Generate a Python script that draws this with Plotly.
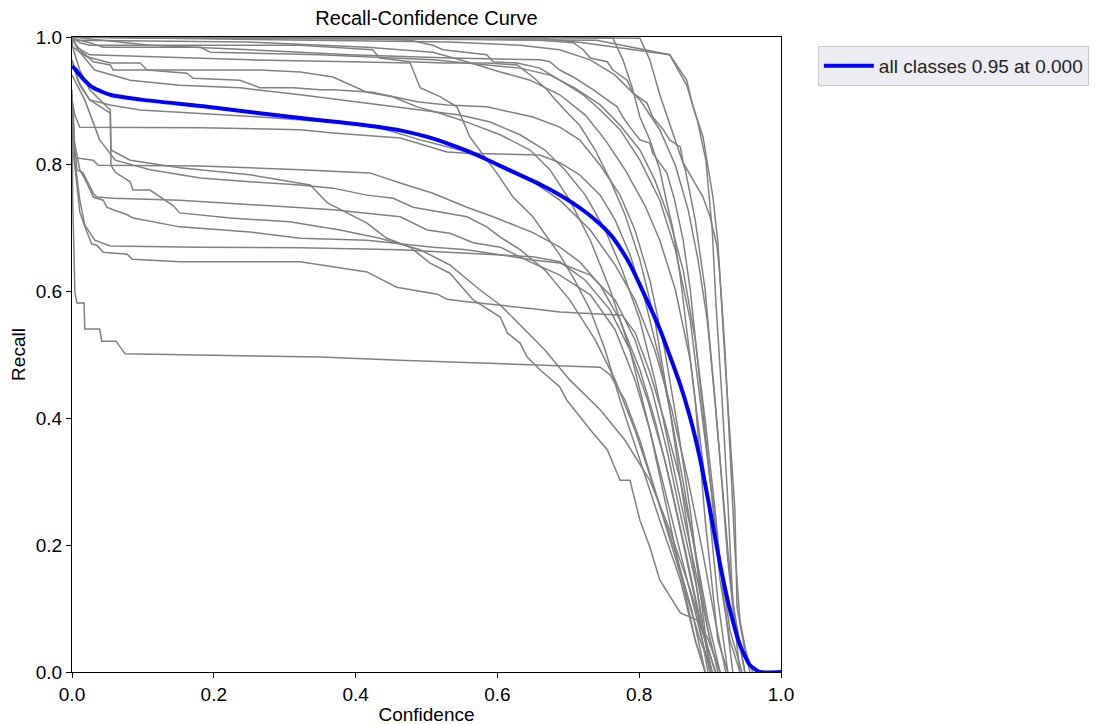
import plotly.graph_objects as go

# ---- Data (confidence, recall) per class curve ----
c01_x = [0, 0.74, 0.843, 0.867, 0.876, 0.890, 0.904, 0.911, 0.921, 0.931, 0.935, 0.938, 0.948, 0.960]
c01_y = [1.0, 0.995, 0.972, 0.932, 0.890, 0.843, 0.748, 0.676, 0.491, 0.334, 0.255, 0.102, 0.040, 0.0]

c02_x = [0, 0.40, 0.66, 0.721, 0.843, 0.867, 0.882, 0.894, 0.903, 0.908, 0.917, 0.925, 0.932, 0.949]
c02_y = [1.0, 1.0, 0.998, 0.991, 0.972, 0.924, 0.869, 0.806, 0.696, 0.586, 0.427, 0.269, 0.110, 0.0]

c03_x = [0, 0.55, 0.763, 0.777, 0.790, 0.801, 0.815, 0.829, 0.839, 0.848, 0.858, 0.879, 0.893, 0.911, 0.925]
c03_y = [1.0, 1.0, 0.998, 0.964, 0.921, 0.874, 0.838, 0.791, 0.739, 0.696, 0.622, 0.428, 0.24, 0.05, 0.0]

c04_x = [0, 0.60, 0.801, 0.815, 0.829, 0.846, 0.865, 0.879, 0.893, 0.903, 0.914, 0.925, 0.942]
c04_y = [1.0, 1.0, 0.998, 0.964, 0.909, 0.854, 0.791, 0.712, 0.602, 0.476, 0.334, 0.176, 0.0]

c05_x = [0, 0.181, 0.420, 0.477, 0.509, 0.523, 0.585, 0.594, 0.628, 0.660, 0.688, 0.721, 0.745, 0.773,
         0.801, 0.829, 0.851, 0.872, 0.886, 0.900, 0.914, 0.928, 0.945]
c05_y = [1.0, 0.998, 0.997, 0.995, 0.987, 0.980, 0.972, 0.961, 0.959, 0.951, 0.932, 0.909, 0.885, 0.854,
         0.806, 0.743, 0.665, 0.554, 0.428, 0.302, 0.176, 0.066, 0.0]

c06_x = [0, 0.110, 0.322, 0.533, 0.660, 0.707, 0.721, 0.731, 0.755, 0.763, 0.783, 0.791, 0.811, 0.819,
         0.834, 0.843, 0.858, 0.862, 0.876, 0.890, 0.900, 0.910, 0.914, 0.921, 0.928, 0.935, 0.942, 0.956]
c06_y = [1.0, 0.998, 0.998, 0.997, 0.995, 0.991, 0.980, 0.967, 0.961, 0.948, 0.932, 0.912, 0.896, 0.874,
         0.854, 0.838, 0.827, 0.802, 0.775, 0.748, 0.717, 0.669, 0.622, 0.507, 0.350, 0.192, 0.082, 0.0]

c07_x = [0, 0.110, 0.247, 0.416, 0.509, 0.557, 0.604, 0.646, 0.688, 0.724, 0.752, 0.780, 0.808, 0.829,
         0.851, 0.872, 0.886, 0.900, 0.911, 0.925]
c07_y = [0.995, 0.994, 0.992, 0.984, 0.976, 0.961, 0.945, 0.932, 0.909, 0.877, 0.838, 0.791, 0.735, 0.680,
         0.602, 0.491, 0.365, 0.239, 0.113, 0.0]

c08_x = [0, 0.025, 0.044, 0.181, 0.195, 0.350, 0.509, 0.580, 0.632, 0.674, 0.709, 0.745, 0.773, 0.801,
         0.822, 0.843, 0.862, 0.879, 0.893, 0.907, 0.918, 0.932]
c08_y = [0.998, 0.991, 0.984, 0.984, 0.976, 0.972, 0.964, 0.956, 0.951, 0.940, 0.920, 0.893, 0.861, 0.822,
         0.775, 0.712, 0.633, 0.523, 0.397, 0.255, 0.129, 0.0]

c09_x = [0, 0.011, 0.025, 0.322, 0.424, 0.434, 0.477, 0.523, 0.585, 0.628, 0.650, 0.670, 0.678, 0.695,
         0.716, 0.738, 0.759, 0.780, 0.801, 0.822, 0.841, 0.858, 0.875, 0.890, 0.907]
c09_y = [1.0, 0.991, 0.987, 0.987, 0.980, 0.967, 0.961, 0.959, 0.959, 0.956, 0.937, 0.917, 0.906, 0.885,
         0.861, 0.822, 0.775, 0.720, 0.649, 0.554, 0.428, 0.302, 0.176, 0.066, 0.0]

c10_x = [0, 0.001, 0.021, 0.054, 0.096, 0.106, 0.162, 0.171, 0.237, 0.265, 0.312, 0.350, 0.368, 0.424,
         0.487, 0.529, 0.585, 0.650, 0.688, 0.716, 0.745, 0.773, 0.794, 0.815, 0.836, 0.855, 0.872, 0.886, 0.900]
c10_y = [1.0, 0.984, 0.969, 0.959, 0.959, 0.948, 0.943, 0.935, 0.932, 0.920, 0.920, 0.917, 0.917, 0.913,
         0.898, 0.893, 0.890, 0.874, 0.858, 0.838, 0.798, 0.751, 0.696, 0.617, 0.507, 0.381, 0.255, 0.129, 0.0]

c11_x = [0, 0.006, 0.016, 0.030, 0.054, 0.058, 0.181, 0.265, 0.322, 0.368, 0.416, 0.452, 0.487, 0.519,
         0.557, 0.604, 0.646, 0.674, 0.702, 0.731, 0.759, 0.787, 0.815, 0.836, 0.858, 0.879, 0.893]
c11_y = [1.0, 0.987, 0.975, 0.961, 0.956, 0.948, 0.948, 0.948, 0.945, 0.937, 0.913, 0.906, 0.890, 0.880,
         0.866, 0.846, 0.822, 0.791, 0.743, 0.680, 0.602, 0.507, 0.381, 0.271, 0.161, 0.050, 0.0]

c12_x = [0, 0.008, 0.025, 0.110, 0.251, 0.392, 0.477, 0.491, 0.519, 0.543, 0.561, 0.575, 0.599, 0.622,
         0.650, 0.670, 0.688, 0.709, 0.731, 0.752, 0.773, 0.801, 0.829, 0.858, 0.879, 0.893]
c12_y = [1.0, 0.983, 0.972, 0.969, 0.964, 0.961, 0.959, 0.920, 0.906, 0.890, 0.843, 0.822, 0.786, 0.748,
         0.717, 0.685, 0.657, 0.617, 0.570, 0.507, 0.428, 0.334, 0.239, 0.145, 0.050, 0.0]

c13_x = [0, 0.004, 0.011, 0.181, 0.322, 0.368, 0.463, 0.529, 0.557, 0.660, 0.688, 0.716, 0.745, 0.766,
         0.787, 0.808, 0.829, 0.846, 0.864, 0.881, 0.897, 0.911]
c13_y = [0.901, 0.877, 0.858, 0.857, 0.854, 0.849, 0.841, 0.819, 0.817, 0.814, 0.802, 0.783, 0.751, 0.712,
         0.657, 0.586, 0.491, 0.397, 0.287, 0.176, 0.066, 0.0]

c14_x = [0, 0.003, 0.004, 0.030, 0.037, 0.181, 0.322, 0.420, 0.463, 0.509, 0.557, 0.594, 0.650, 0.688,
         0.716, 0.745, 0.773, 0.801, 0.822, 0.843, 0.865, 0.886, 0.903]
c14_y = [0.909, 0.854, 0.810, 0.806, 0.798, 0.797, 0.791, 0.786, 0.770, 0.754, 0.732, 0.717, 0.692, 0.669,
         0.646, 0.609, 0.554, 0.476, 0.397, 0.302, 0.192, 0.082, 0.0]

c15_x = [0, 0.008, 0.025, 0.054, 0.055, 0.082, 0.152, 0.251, 0.336, 0.360, 0.416, 0.444, 0.477, 0.505,
         0.533, 0.566, 0.604, 0.614, 0.632, 0.642, 0.660, 0.688, 0.698, 0.716, 0.735, 0.755, 0.773, 0.787,
         0.801, 0.815, 0.829, 0.858, 0.881, 0.896, 0.914]
c15_y = [0.964, 0.932, 0.901, 0.880, 0.822, 0.806, 0.794, 0.783, 0.767, 0.739, 0.707, 0.683, 0.669, 0.644,
         0.628, 0.586, 0.559, 0.534, 0.518, 0.496, 0.476, 0.449, 0.428, 0.402, 0.376, 0.350, 0.302, 0.302,
         0.239, 0.197, 0.145, 0.093, 0.082, 0.055, 0.0]

c16_x = [0, 0.007, 0.011, 0.021, 0.028, 0.035, 0.044, 0.078, 0.085, 0.152, 0.322, 0.416, 0.444, 0.458,
         0.515, 0.529, 0.557, 0.604, 0.650, 0.688, 0.745, 0.776, 0.794, 0.815, 0.836, 0.858, 0.879, 0.897, 0.914]
c16_y = [0.838, 0.767, 0.724, 0.693, 0.674, 0.672, 0.661, 0.658, 0.650, 0.646, 0.646, 0.630, 0.614, 0.606,
         0.595, 0.587, 0.583, 0.578, 0.572, 0.567, 0.564, 0.562, 0.535, 0.472, 0.394, 0.302, 0.192, 0.082, 0.0]

c17_x = [0, 0.001, 0.003, 0.004, 0.007, 0.017, 0.018, 0.039, 0.042, 0.062, 0.075, 0.181, 0.350, 0.463,
         0.650, 0.745, 0.759, 0.780, 0.801, 0.822, 0.843, 0.864, 0.886, 0.903]
c17_y = [0.917, 0.743, 0.649, 0.598, 0.581, 0.581, 0.540, 0.540, 0.521, 0.521, 0.501, 0.499, 0.496, 0.491,
         0.483, 0.480, 0.468, 0.428, 0.365, 0.287, 0.208, 0.129, 0.050, 0.0]

c18_x = [0, 0.007, 0.0155, 0.030, 0.035, 0.058, 0.152, 0.322, 0.368, 0.463, 0.501, 0.533, 0.566, 0.604,
         0.650, 0.688, 0.731, 0.766, 0.794, 0.815, 0.836, 0.858, 0.879, 0.900]
c18_y = [0.869, 0.791, 0.786, 0.754, 0.748, 0.746, 0.743, 0.732, 0.728, 0.717, 0.696, 0.691, 0.676, 0.669,
         0.644, 0.625, 0.594, 0.539, 0.460, 0.381, 0.287, 0.192, 0.098, 0.0]

c19_x = [0, 0.011, 0.021, 0.030, 0.044, 0.049, 0.058, 0.068, 0.078, 0.086, 0.114, 0.152, 0.251, 0.322,
         0.416, 0.509, 0.557, 0.650, 0.688, 0.731, 0.766, 0.794, 0.818, 0.839, 0.860, 0.882, 0.900]
c19_y = [0.854, 0.791, 0.770, 0.748, 0.743, 0.732, 0.728, 0.724, 0.720, 0.715, 0.709, 0.701, 0.693, 0.683,
         0.680, 0.669, 0.665, 0.649, 0.644, 0.625, 0.586, 0.523, 0.444, 0.350, 0.239, 0.129, 0.0]

c20_x = [0, 0.004, 0.011, 0.018, 0.032, 0.054, 0.181, 0.322, 0.463, 0.557, 0.650, 0.688, 0.724, 0.759,
         0.787, 0.812, 0.836, 0.858, 0.879, 0.897]
c20_y = [0.885, 0.806, 0.743, 0.704, 0.680, 0.671, 0.669, 0.668, 0.665, 0.660, 0.654, 0.646, 0.617, 0.570,
         0.507, 0.428, 0.334, 0.224, 0.113, 0.0]

c21_x = [0, 0.011, 0.025, 0.039, 0.054, 0.055, 0.061, 0.082, 0.086, 0.110, 0.124, 0.142, 0.152, 0.223,
         0.307, 0.378, 0.434, 0.491, 0.533, 0.575, 0.604, 0.632, 0.667, 0.702, 0.745, 0.780, 0.815, 0.843,
         0.872, 0.893, 0.908]
c21_y = [0.987, 0.948, 0.917, 0.901, 0.885, 0.798, 0.787, 0.772, 0.759, 0.759, 0.748, 0.735, 0.723, 0.715,
         0.709, 0.696, 0.683, 0.665, 0.641, 0.602, 0.578, 0.547, 0.507, 0.460, 0.413, 0.365, 0.302, 0.224,
         0.129, 0.050, 0.0]

c22_x = [0, 0.008, 0.032, 0.082, 0.152, 0.237, 0.322, 0.378, 0.434, 0.491, 0.547, 0.590, 0.632, 0.667,
         0.695, 0.724, 0.752, 0.776, 0.801, 0.822, 0.843, 0.864, 0.886, 0.903, 0.914]
c22_y = [1.0, 0.980, 0.948, 0.932, 0.924, 0.920, 0.909, 0.901, 0.893, 0.885, 0.877, 0.866, 0.846, 0.822,
         0.791, 0.751, 0.696, 0.633, 0.554, 0.460, 0.350, 0.239, 0.129, 0.035, 0.0]

c23_x = [0, 0.011, 0.025, 0.054, 0.096, 0.181, 0.265, 0.364, 0.434, 0.491, 0.547, 0.604, 0.646, 0.688,
         0.731, 0.766, 0.794, 0.822, 0.846, 0.869, 0.889, 0.907, 0.922]
c23_y = [0.964, 0.924, 0.901, 0.893, 0.885, 0.880, 0.874, 0.866, 0.857, 0.838, 0.822, 0.798, 0.775, 0.743,
         0.696, 0.641, 0.586, 0.507, 0.413, 0.302, 0.192, 0.082, 0.0]

c24_x = [0, 0.018, 0.039, 0.061, 0.110, 0.181, 0.251, 0.322, 0.368, 0.416, 0.453, 0.481, 0.557, 0.585,
         0.604, 0.632, 0.667, 0.702, 0.738, 0.766, 0.794, 0.822, 0.850, 0.874, 0.893]
c24_y = [0.940, 0.901, 0.838, 0.806, 0.791, 0.778, 0.772, 0.767, 0.762, 0.751, 0.746, 0.732, 0.717, 0.701,
         0.685, 0.665, 0.633, 0.586, 0.523, 0.460, 0.381, 0.287, 0.192, 0.098, 0.0]

c25_x = [0, 0.322, 0.533, 0.632, 0.688, 0.731, 0.766, 0.801, 0.829, 0.851, 0.869, 0.883, 0.896, 0.907,
         0.917, 0.925, 0.935, 0.949]
c25_y = [1.0, 0.995, 0.992, 0.987, 0.980, 0.964, 0.940, 0.901, 0.854, 0.798, 0.728, 0.649, 0.554, 0.428,
         0.302, 0.192, 0.082, 0.0]

c26_x = [0, 0.110, 0.251, 0.392, 0.533, 0.660, 0.674, 0.688, 0.707, 0.721, 0.735, 0.755, 0.769, 0.777,
         0.787, 0.801, 0.815, 0.819, 0.829, 0.839, 0.850, 0.862, 0.872, 0.881, 0.891, 0.903, 0.914, 0.928, 0.942]
c26_y = [1.0, 0.987, 0.980, 0.972, 0.967, 0.964, 0.961, 0.948, 0.937, 0.927, 0.917, 0.901, 0.890, 0.874,
         0.858, 0.838, 0.833, 0.817, 0.802, 0.786, 0.743, 0.680, 0.602, 0.507, 0.397, 0.271, 0.145, 0.050, 0.0]

class_curves = [
    (c01_x, c01_y), (c02_x, c02_y), (c03_x, c03_y), (c04_x, c04_y), (c05_x, c05_y),
    (c06_x, c06_y), (c07_x, c07_y), (c08_x, c08_y), (c09_x, c09_y), (c10_x, c10_y),
    (c11_x, c11_y), (c12_x, c12_y), (c13_x, c13_y), (c14_x, c14_y), (c15_x, c15_y),
    (c16_x, c16_y), (c17_x, c17_y), (c18_x, c18_y), (c19_x, c19_y), (c20_x, c20_y),
    (c21_x, c21_y), (c22_x, c22_y), (c23_x, c23_y), (c24_x, c24_y), (c25_x, c25_y),
    (c26_x, c26_y),
]

# mean curve (all classes)
all_x = [0.000, 0.004, 0.015, 0.030, 0.054, 0.100, 0.185, 0.265, 0.350, 0.400, 0.463, 0.500, 0.533,
         0.570, 0.604, 0.633, 0.660, 0.685, 0.707, 0.727, 0.745, 0.760, 0.773, 0.787, 0.800, 0.829,
         0.858, 0.872, 0.886, 0.900, 0.914, 0.928, 0.942, 0.956, 0.970, 1.0]
all_y = [0.954, 0.950, 0.935, 0.920, 0.909, 0.901, 0.891, 0.880, 0.869, 0.863, 0.853, 0.843, 0.831,
         0.815, 0.797, 0.782, 0.768, 0.753, 0.738, 0.722, 0.705, 0.688, 0.668, 0.642, 0.612, 0.540,
         0.452, 0.400, 0.335, 0.255, 0.170, 0.098, 0.043, 0.011, 0.0, 0.0]
all_label = "all classes 0.95 at 0.000"

tick_vals = [0.0, 0.2, 0.4, 0.6, 0.8, 1.0]
tick_text = ["0.0", "0.2", "0.4", "0.6", "0.8", "1.0"]

FONT = "Liberation Sans, Arial, sans-serif"

fig = go.Figure()
for cx, cy in class_curves:
    fig.add_trace(go.Scatter(x=cx, y=cy, mode="lines", showlegend=False, hoverinfo="skip",
                             line=dict(color="#808080", width=1.5)))

fig.add_trace(go.Scatter(x=all_x, y=all_y, mode="lines", name=all_label,
                         line=dict(color="#0000ff", width=4, shape="spline", smoothing=0.5)))

axis_common = dict(
    range=[0, 1], tickvals=tick_vals, ticktext=tick_text, showgrid=False, zeroline=False,
    showline=True, linecolor="black", linewidth=1.2, mirror=True,
    ticks="outside", ticklen=5, tickwidth=1.2, tickcolor="black", automargin=False,
    tickfont=dict(family=FONT, size=19, color="black"),
)

# the page body adds an 8px offset; margins compensate so the plot box lands at 72..781 x 37..672
fig.update_layout(
    width=1097, height=724,
    margin=dict(l=64, r=324, t=29, b=60),
    plot_bgcolor="white", paper_bgcolor="white",
    font=dict(family=FONT, size=19, color="black"),
    title=dict(text="Recall-Confidence Curve", x=0.5, xref="paper", y=1 - 10 / 724,
               yref="container", xanchor="center", yanchor="middle",
               font=dict(family=FONT, size=20, color="black")),
    xaxis=dict(**axis_common, title=dict(text="Confidence", standoff=3,
                                         font=dict(family=FONT, size=19))),
    yaxis=dict(**axis_common, title=dict(text="Recall", standoff=9,
                                         font=dict(family=FONT, size=19))),
    legend=dict(x=1.052, y=0.986, xanchor="left", yanchor="top",
                bgcolor="#ececf3", bordercolor="#c8c8c8", borderwidth=1,
                font=dict(family=FONT, size=19, color="#222222"), itemwidth=50),
)

fig.write_html("out.html")
